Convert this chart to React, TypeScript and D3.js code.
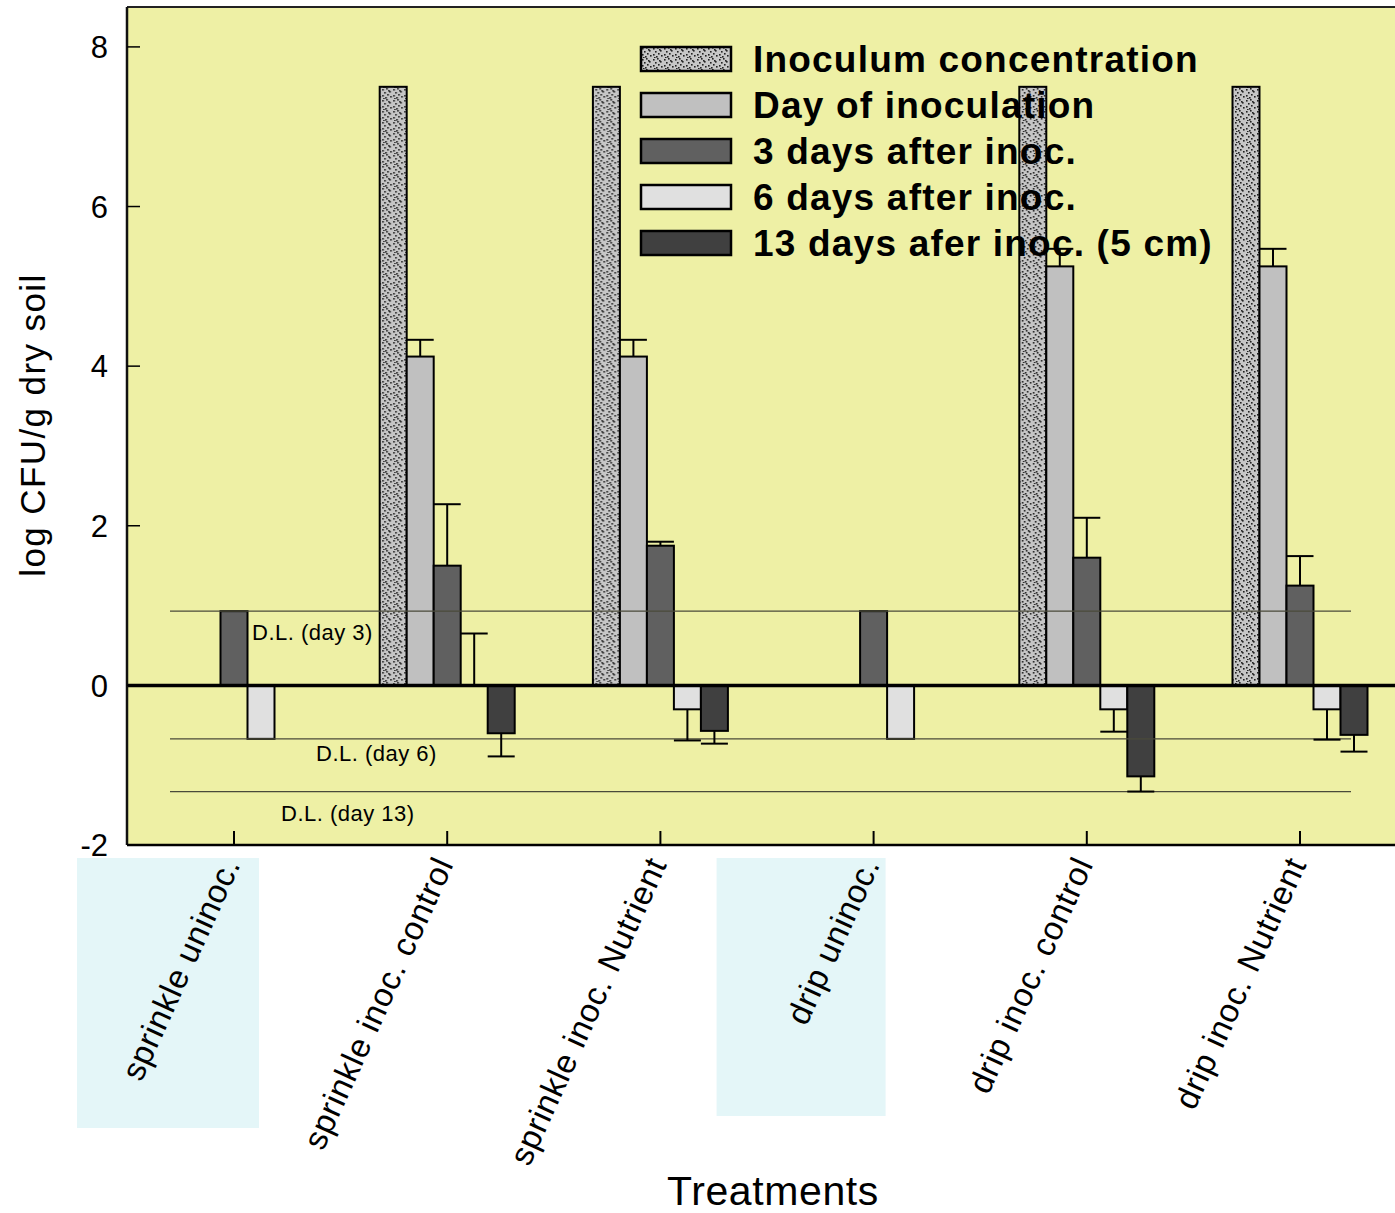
import React from "react";
import * as d3 from "d3";

const categories = [
  "sprinkle uninoc.",
  "sprinkle inoc. control",
  "sprinkle inoc. Nutrient",
  "drip uninoc.",
  "drip inoc. control",
  "drip inoc. Nutrient",
];
const highlighted = ["sprinkle uninoc.", "drip uninoc."];

const seriesNames = [
  "Inoculum concentration",
  "Day of inoculation",
  "3 days after inoc.",
  "6 days after inoc.",
  "13 days afer inoc. (5 cm)",
];

const inoculum = [null, 7.5, 7.5, null, 7.5, 7.5];
const inoculumErr = [null, null, null, null, null, null];
const dayOf = [null, 4.12, 4.12, null, 5.25, 5.25];
const dayOfErr = [null, 0.21, 0.21, null, 0.22, 0.22];
const day3 = [0.93, 1.5, 1.75, 0.93, 1.6, 1.25];
const day3Err = [null, 0.77, 0.05, null, 0.5, 0.37];
const day6 = [-0.67, 0, -0.3, -0.67, -0.3, -0.3];
const day6Err = [null, 0.65, 0.39, null, 0.28, 0.38];
const day13 = [null, -0.6, -0.57, null, -1.14, -0.62];
const day13Err = [null, 0.29, 0.16, null, 0.19, 0.21];

const detectionLimits = [0.93, -0.67, -1.33];
const detectionLabels = ["D.L. (day 3)", "D.L. (day 6)", "D.L. (day 13)"];
const yTicks = [-2, 0, 2, 4, 6, 8];

const seriesValues = [inoculum, dayOf, day3, day6, day13];
const seriesErrors = [inoculumErr, dayOfErr, day3Err, day6Err, day13Err];
const seriesFills = ["url(#stipple)", "#c0c0c0", "#606060", "#e0e0e0", "#404040"];

const W = 1395;
const H = 1213;
const left = 127;
const top = 7;
const right = 1395;
const bottom = 845;

const stippleDots = [
  [1, 1], [5, 0], [8, 3], [3, 4], [6, 6], [1, 7], [9, 8], [4, 9], [7, 2], [2, 10],
];

export default function App() {
  const y = d3.scaleLinear().domain([-2, 8.5]).range([bottom, top]);
  const x = d3.scalePoint<string>().domain(categories).range([234, 1300]);
  const inner = d3.scaleBand<string>().domain(seriesNames).range([-67.5, 67.5]);
  const bw = inner.bandwidth();
  const y0 = y(0);

  const dlLabelX = [252, 316, 281];
  const dlLabelDy = [29, 22, 29];

  return (
    <svg
      width={W}
      height={H}
      style={{ position: "absolute", left: 0, top: 0, fontFamily: "Arial, 'Liberation Sans', sans-serif" }}
    >
      <defs>
        <pattern id="stipple" width="11" height="11" patternUnits="userSpaceOnUse">
          <rect width="11" height="11" fill="#c6c6c6" />
          {stippleDots.map(([px, py], i) => (
            <rect key={i} x={px} y={py} width={1.6} height={1.6} fill="#222" />
          ))}
        </pattern>
      </defs>
      <rect x={0} y={0} width={W} height={H} fill="#fff" />

      {/* highlight boxes behind labels */}
      {highlighted.map((c) => (
        <rect
          key={c}
          x={(x(c) as number) - 157}
          y={858}
          width={c === "drip uninoc." ? 169 : 182}
          height={c === "drip uninoc." ? 258 : 270}
          fill="#e4f6f8"
        />
      ))}

      {/* plot background */}
      <rect x={left} y={top} width={right - left} height={bottom - top} fill="#eef0a5" />

      {/* bars */}
      {categories.map((c, ci) => (
        <g key={c} transform={`translate(${x(c)},0)`}>
          {seriesNames.map((s, si) => {
            const v = seriesValues[si][ci];
            if (v === null || v === 0) return null;
            const bx = inner(s) as number;
            return (
              <rect
                key={s}
                x={bx}
                y={Math.min(y(v), y0)}
                width={bw}
                height={Math.abs(y(v) - y0)}
                fill={seriesFills[si]}
                stroke="#000"
                strokeWidth={2}
              />
            );
          })}
        </g>
      ))}

      {/* detection limits */}
      {detectionLimits.map((d, i) => (
        <g key={i}>
          <line x1={170} x2={1351} y1={y(d)} y2={y(d)} stroke="#4a4a3a" strokeWidth={1.2} />
          <text x={dlLabelX[i]} y={y(d) + dlLabelDy[i]} fontSize={22} letterSpacing={0.5} fill="#000">
            {detectionLabels[i]}
          </text>
        </g>
      ))}

      {/* error bars */}
      {categories.map((c, ci) => (
        <g key={c + "e"} transform={`translate(${x(c)},0)`}>
          {seriesNames.map((s, si) => {
            const v = seriesValues[si][ci];
            const e = seriesErrors[si][ci];
            if (v === null || e === null) return null;
            const bx = inner(s) as number;
            const end = v >= 0 ? v + e : v - e;
            return (
              <g key={s} stroke="#000" strokeWidth={2}>
                <line x1={bx + bw / 2} x2={bx + bw / 2} y1={y(v)} y2={y(end)} />
                <line x1={bx} x2={bx + bw} y1={y(end)} y2={y(end)} />
              </g>
            );
          })}
        </g>
      ))}

      {/* zero line */}
      <line x1={left} x2={right} y1={y0} y2={y0} stroke="#000" strokeWidth={3.5} />

      {/* frame */}
      <line x1={left} x2={right} y1={top} y2={top} stroke="#222" strokeWidth={2} />
      <line x1={left} x2={left} y1={top} y2={bottom} stroke="#111" strokeWidth={2.5} />
      <line x1={left} x2={right} y1={bottom} y2={bottom} stroke="#000" strokeWidth={2.5} />

      {/* y ticks */}
      {yTicks.map((t) => (
        <g key={t}>
          <line x1={left} x2={left + 13} y1={y(t)} y2={y(t)} stroke="#000" strokeWidth={1.5} />
          <text x={108} y={y(t)} dy="0.36em" textAnchor="end" fontSize={31} fill="#000">
            {t}
          </text>
        </g>
      ))}

      {/* x ticks & labels */}
      {categories.map((c) => (
        <g key={c + "t"}>
          <line x1={x(c)} x2={x(c)} y1={bottom} y2={bottom - 14} stroke="#000" strokeWidth={2} />
          <text
            transform={`translate(${(x(c) as number) + 7},${864}) rotate(-65.5)`}
            textAnchor="end"
            fontSize={33}
            letterSpacing={0.7}
            fill="#000"
          >
            {c}
          </text>
        </g>
      ))}

      {/* axis titles */}
      <text
        transform={`translate(45,425) rotate(-90)`}
        textAnchor="middle"
        fontSize={35}
        letterSpacing={1.4}
        fill="#000"
      >
        log CFU/g dry soil
      </text>
      <text x={773} y={1205} textAnchor="middle" fontSize={41} letterSpacing={0.6} fill="#000">
        Treatments
      </text>

      {/* legend */}
      {seriesNames.map((s, i) => (
        <g key={s + "l"} transform={`translate(641,${47 + i * 46})`}>
          <rect x={0} y={0} width={90} height={24} fill={seriesFills[i]} stroke="#000" strokeWidth={2.5} />
          <text x={112} y={12} dy="0.36em" fontSize={37} letterSpacing={1.2} fontWeight="bold" fill="#000">
            {s}
          </text>
        </g>
      ))}
    </svg>
  );
}
